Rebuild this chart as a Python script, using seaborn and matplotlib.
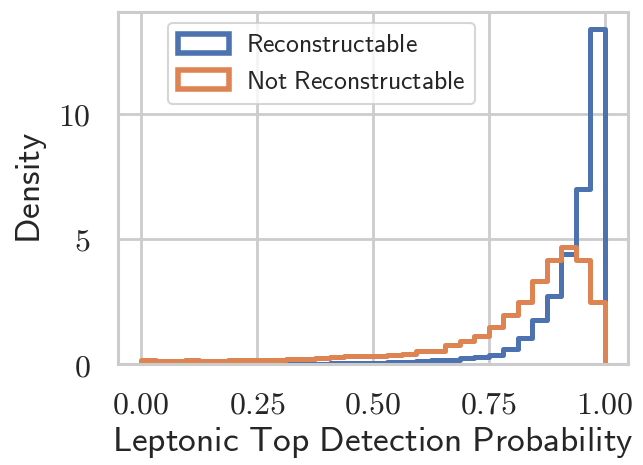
import numpy as np
import pandas as pd
import matplotlib
matplotlib.use("Agg")
import matplotlib.pyplot as plt
from matplotlib.patches import Patch
from matplotlib.ticker import FuncFormatter
import seaborn as sns

# 32 equal-width bins on [0, 1]
n_bins = 32
bin_range = (0.0, 1.0)

reconstructable = [
    0.0, 0.0, 0.0, 0.0, 0.0, 0.0, 0.01, 0.01,
    0.01, 0.01, 0.01, 0.01, 0.01, 0.02, 0.03, 0.04,
    0.05, 0.07, 0.09, 0.12, 0.14, 0.17, 0.22, 0.27,
    0.35, 0.60, 1.03, 1.75, 2.70, 4.40, 7.00, 13.40,
]
not_reconstructable = [
    0.16, 0.10, 0.12, 0.15, 0.13, 0.13, 0.15, 0.16,
    0.16, 0.17, 0.20, 0.20, 0.23, 0.27, 0.31, 0.30,
    0.33, 0.36, 0.40, 0.50, 0.52, 0.75, 0.90, 1.13,
    1.47, 1.96, 2.49, 3.33, 4.16, 4.67, 4.16, 2.49,
]
series_labels = ["Reconstructable", "Not Reconstructable"]
x_ticks = [0.0, 0.25, 0.5, 0.75, 1.0]
y_ticks = [0, 5, 10]

sns.set_theme(style="whitegrid")
plt.rcParams["mathtext.fontset"] = "cm"
plt.rcParams["font.family"] = ["DejaVu Sans"]

colors = sns.color_palette("deep")[:2]
edges = np.linspace(bin_range[0], bin_range[1], n_bins + 1)
centers = (edges[:-1] + edges[1:]) / 2

fig = plt.figure(figsize=(6.43, 4.65), dpi=100)
ax = fig.add_axes([118 / 643, 1 - 364 / 465, 510 / 643, 352 / 465])

for vals, col in zip([reconstructable, not_reconstructable], colors):
    df = pd.DataFrame({"x": centers, "w": vals})
    n_before = len(ax.lines)
    sns.histplot(data=df, x="x", weights="w", bins=n_bins, binrange=bin_range,
                 stat="count", element="step", fill=False, color=col,
                 linewidth=3.6, ax=ax)
    # close the outline down to the baseline at both ends (like a step histogram)
    for line in ax.lines[n_before:]:
        xd = np.asarray(line.get_xdata(), dtype=float)
        yd = np.asarray(line.get_ydata(), dtype=float)
        line.set_data(np.concatenate([[xd[0]], xd, [xd[-1]]]),
                      np.concatenate([[0.0], yd, [0.0]]))

ax.set_xlim(-0.05, 1.05)
ax.set_ylim(0, 14.07)
ax.set_xticks(x_ticks)
ax.set_yticks(y_ticks)
ax.xaxis.set_major_formatter(FuncFormatter(lambda v, p: f"${v:.2f}$"))
ax.yaxis.set_major_formatter(FuncFormatter(lambda v, p: f"${v:.0f}$"))
ax.tick_params(axis="x", labelsize=23, pad=12.5)
ax.tick_params(axis="y", labelsize=23, pad=14)
ax.set_xlabel(r"$\mathsf{Leptonic\ Top\ Detection\ Probability}$", fontsize=25.5, labelpad=3)
ax.set_ylabel(r"$\mathsf{Density}$", fontsize=25.5, labelpad=6)

for s in ax.spines.values():
    s.set_color("#cccccc")
    s.set_linewidth(2.2)
ax.grid(True, color="#cccccc", linewidth=2.0)

handles = [Patch(facecolor="none", edgecolor=c, linewidth=4) for c in colors]
labels = [r"$\mathsf{" + l.replace(" ", r"\ ") + "}$" for l in series_labels]
leg = ax.legend(handles, labels, loc="upper left", bbox_to_anchor=(0.098, 0.97),
                borderaxespad=0, fontsize=18.5, frameon=True, handlelength=2.0,
                handleheight=0.75, handletextpad=0.65, borderpad=0.38, labelspacing=0.4)
leg.get_frame().set_edgecolor("#cccccc")
leg.get_frame().set_linewidth(1.5)

fig.savefig("out.png", dpi=100)
